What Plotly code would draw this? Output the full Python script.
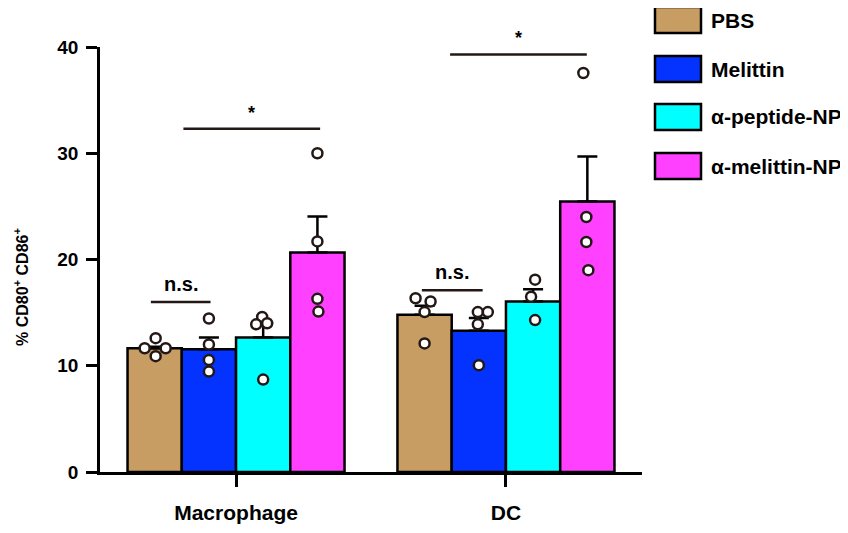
import plotly.graph_objects as go

# ---------------- data ----------------
categories = ["Macrophage", "DC"]
series_names = ["PBS", "Melittin", "α-peptide-NP", "α-melittin-NP"]
means = {
    "PBS": [11.65, 14.8],
    "Melittin": [11.55, 13.3],
    "α-peptide-NP": [12.65, 16.05],
    "α-melittin-NP": [20.65, 25.45],
}
sems = {
    "PBS": [0.15, 0.85],
    "Melittin": [1.1, 1.2],
    "α-peptide-NP": [1.35, 1.15],
    "α-melittin-NP": [3.4, 4.25],
}
# individual replicate values per [category][series]
points = {
    "Macrophage": {
        "PBS": [12.6, 11.65, 11.65, 10.9],
        "Melittin": [14.45, 12.0, 10.55, 9.45],
        "α-peptide-NP": [14.6, 13.9, 14.0, 8.7],
        "α-melittin-NP": [30.0, 21.7, 16.3, 15.1],
    },
    "DC": {
        "PBS": [16.35, 16.05, 15.05, 12.1],
        "Melittin": [15.05, 15.05, 13.9, 10.05],
        "α-peptide-NP": [18.1, 16.5, 14.3],
        "α-melittin-NP": [37.55, 24.0, 21.65, 19.0],
    },
}
# significance brackets: (category index, from series pos, to series pos, y, label)
brackets = [
    (0, -0.07, 1.03, 16.0, "n.s."),
    (0, 0.53, 3.05, 32.3, "*"),
    (1, -0.05, 1.07, 17.1, "n.s."),
    (1, 0.47, 2.99, 39.3, "*"),
]
y_ticks = [0, 10, 20, 30, 40]

# ---------------- style ----------------
colors = ["#C89D63", "#0433FF", "#00FFFF", "#FF40FF"]
dark = "#231815"
FONT = "Liberation Sans"
W, H = 848, 533
OFF = 8  # page body margin of the html page
ML, MT = 100 - OFF, 47 - OFF
MR, MB = W - (642 - OFF), H - (472 - OFF)
bargap = 0.196
bw = (1 - bargap) / 4  # bar width in data units
# small horizontal jitter of replicate dots (px), same shape as points
jitter_px = {
    "Macrophage": {
        "PBS": [1, -10, 11, 1],
        "Melittin": [0, 0, 0, 0],
        "α-peptide-NP": [-1, -7, 4, 0],
        "α-melittin-NP": [0, 0, 0, 1],
    },
    "DC": {
        "PBS": [-9, 6, 0, 0],
        "Melittin": [-1, 9, -1, 0],
        "α-peptide-NP": [2, -2, 2],
        "α-melittin-NP": [-4, -1, -1, 1],
    },
}
pw, ph = W - ML - MR, H - MT - MB
px_per_unit = pw / (1 + 2 * 0.504)

fig = go.Figure()
for i, name in enumerate(series_names):
    fig.add_trace(go.Bar(
        x=[0, 1], y=means[name], name=name, showlegend=False,
        marker=dict(color=colors[i], line=dict(color="black", width=2.5)),
        error_y=dict(type="data", array=sems[name], arrayminus=[0, 0],
                     symmetric=False, color="black", thickness=2.5, width=10),
        offsetgroup=str(i),
    ))

for ci, cat in enumerate(categories):
    for i, name in enumerate(series_names):
        center = ci + (i - 1.5) * bw
        xs = [center + j / px_per_unit for j in jitter_px[cat][name]]
        fig.add_trace(go.Scatter(
            x=xs, y=points[cat][name], mode="markers", showlegend=False,
            marker=dict(size=10, color="white", line=dict(color=dark, width=2.5)),
            cliponaxis=False,
        ))

for ci, a, b, yv, lab in brackets:
    x0 = ci + (a - 1.5) * bw
    x1 = ci + (b - 1.5) * bw
    fig.add_shape(type="line", xref="x", yref="y", x0=x0, x1=x1, y0=yv, y1=yv,
                  line=dict(color=dark, width=2.5))
    fig.add_annotation(x=(x0 + x1) / 2, y=yv, xref="x", yref="y", text=lab,
                       showarrow=False, yanchor="bottom",
                       yshift=5 if lab == "n.s." else 4,
                       font=dict(family=FONT, size=20 if lab == "n.s." else 18,
                                 color="black", weight="bold"))

# custom legend (large swatches); positions in page pixels
def px2paper_x(px):
    return (px - OFF - ML) / pw
def px2paper_y(py):
    return (H - MB - (py - OFF)) / ph
leg_top = [7, 56, 104, 153]
for i, name in enumerate(series_names):
    t = leg_top[i]
    fig.add_shape(type="rect", xref="paper", yref="paper",
                  x0=px2paper_x(655), x1=px2paper_x(701),
                  y0=px2paper_y(t), y1=px2paper_y(t + 26),
                  fillcolor=colors[i], line=dict(color="black", width=2.5))
    fig.add_annotation(xref="paper", yref="paper", x=px2paper_x(709),
                       y=px2paper_y(t + 13), xanchor="left", yanchor="middle",
                       text=name, showarrow=False,
                       font=dict(family=FONT, size=21, color="black", weight="bold"))

# y axis title
fig.add_annotation(xref="paper", yref="paper", x=px2paper_x(21), y=px2paper_y(287),
                   text="% CD80<sup>+</sup> CD86<sup>+</sup>", textangle=-90,
                   showarrow=False, xanchor="center", yanchor="middle",
                   font=dict(family=FONT, size=16, color="black", weight="bold"))

fig.update_layout(
    width=W, height=H, autosize=False,
    margin=dict(l=ML, r=MR, t=MT, b=MB, pad=0),
    paper_bgcolor="white", plot_bgcolor="white",
    barmode="group", bargap=bargap, bargroupgap=0,
    showlegend=False,
    xaxis=dict(range=[-0.504, 1.504], tickvals=[0, 1], ticktext=categories,
               showline=True, linecolor="black", linewidth=2.5,
               ticks="outside", ticklen=12, tickwidth=2.5, tickcolor="black",
               ticklabelstandoff=8,
               showgrid=False, zeroline=False, fixedrange=True,
               tickfont=dict(family=FONT, size=21, color="black", weight="bold")),
    yaxis=dict(range=[0, 40], tickvals=y_ticks, showline=True, linecolor="black",
               linewidth=2.5, ticks="outside", ticklen=11, tickwidth=2.5,
               tickcolor="black", showgrid=False, zeroline=False,
               ticklabelstandoff=4,
               tickfont=dict(family=FONT, size=19, color="black", weight="bold")),
)
fig.write_html("out.html")
